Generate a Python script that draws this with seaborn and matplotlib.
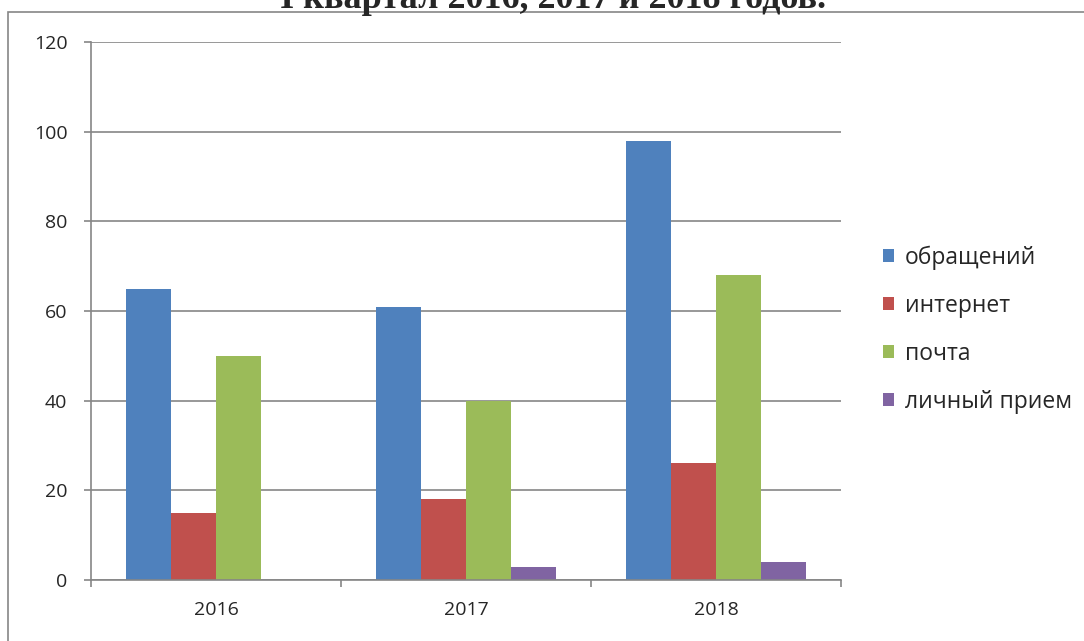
import pandas as pd
import matplotlib
matplotlib.use("Agg")
import matplotlib.pyplot as plt
import seaborn as sns
from matplotlib.patches import Rectangle

# данные
years = ["2016", "2017", "2018"]
series = ["обращений", "интернет", "почта", "личный прием"]
obrascheniy = [65, 61, 98]
internet = [15, 18, 26]
pochta = [50, 40, 68]
lichny_priem = [0, 3, 4]
colors = ["#4F81BD", "#C0504D", "#9BBB59", "#8064A2"]
title = "I квартал 2016, 2017 и 2018 годов."


def main():
    sns.set_style("white")
    plt.rcParams["font.family"] = ["Open Sans", "DejaVu Sans"]

    values = [obrascheniy, internet, pochta, lichny_priem]
    rows = []
    for name, vals in zip(series, values):
        for year, v in zip(years, vals):
            rows.append({"год": year, "вид": name, "значение": v})
    df = pd.DataFrame(rows)

    fig = plt.figure(figsize=(10.84, 6.41), dpi=100)
    ax = fig.add_axes([91 / 1084, 1 - 580 / 641, 750 / 1084, 538 / 641])

    sns.barplot(data=df, x="год", y="значение", hue="вид", order=years,
                hue_order=series, palette=colors, width=0.72, gap=0,
                saturation=1, linewidth=0, ax=ax)

    grid_c = "#868686"
    ax.set_ylim(0, 120)
    ax.set_xlim(-0.5, 2.5)
    ax.set_yticks(range(0, 121, 20))
    ax.yaxis.grid(True, color=grid_c, linewidth=1.2)
    ax.set_axisbelow(True)
    for s in ["top", "right"]:
        ax.spines[s].set_visible(False)
    for s in ["left", "bottom"]:
        ax.spines[s].set_color(grid_c)
        ax.spines[s].set_linewidth(1.2)

    # метки годов по центру групп, засечки между группами
    ax.set_xticks([-0.5, 0.5, 1.5, 2.5])
    ax.set_xticklabels([])
    ax.set_xticks([0, 1, 2], minor=True)
    ax.set_xticklabels(years, minor=True)
    ax.tick_params(axis="x", which="major", direction="out", length=5,
                   width=1.2, color=grid_c, bottom=True)
    ax.tick_params(axis="x", which="minor", length=0, pad=15, labelsize=14)
    ax.tick_params(axis="y", direction="out", length=5, width=1.2,
                   color=grid_c, left=True, pad=12, labelsize=14)
    ax.set_xlabel("")
    ax.set_ylabel("")

    ax.legend(loc="center left", bbox_to_anchor=(883 / 1084, 1 - 329.5 / 641),
              bbox_transform=fig.transFigure, frameon=False, fontsize=16.5,
              handlelength=0.48, handleheight=0.48, handletextpad=0.48,
              labelspacing=1.05, borderpad=0, borderaxespad=0)

    # рамка области диаграммы
    fig.patches.append(Rectangle((8 / 1084, -0.1), 1.2, 1 - 12 / 641 + 0.1,
                                 transform=fig.transFigure, fill=False,
                                 edgecolor=grid_c, linewidth=1.2))

    fig.text(553 / 1084, 1 - 8 / 641, title, ha="center", va="baseline",
             fontsize=26, fontweight="bold", family="Liberation Serif")

    fig.savefig("out.png", dpi=100)


if __name__ == '__main__':
    main()
